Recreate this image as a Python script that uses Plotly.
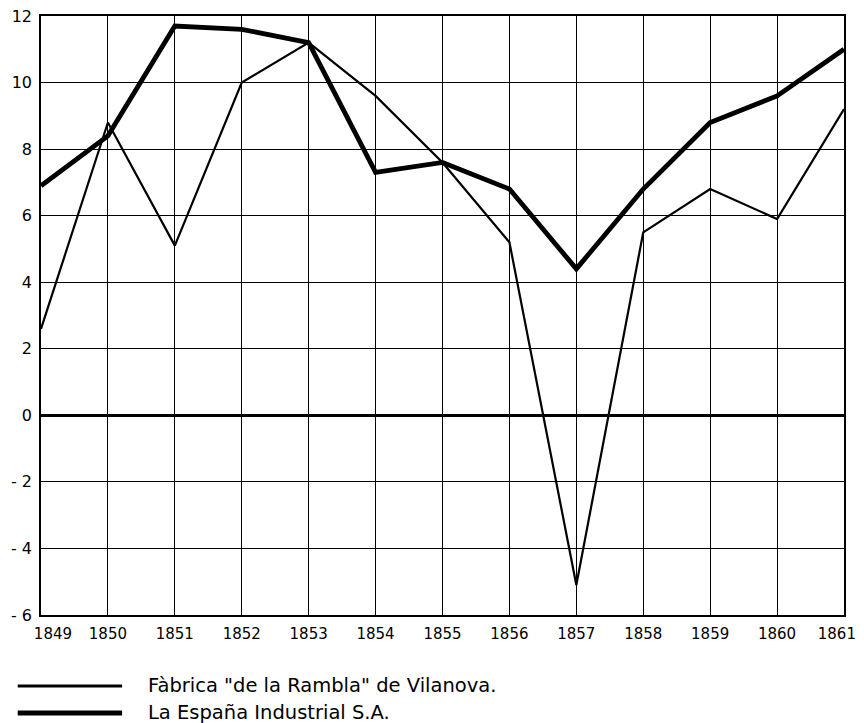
import plotly.graph_objects as go

years = [1849, 1850, 1851, 1852, 1853, 1854, 1855, 1856, 1857, 1858, 1859, 1860, 1861]
year_labels = ["\u00a0\u00a0\u00a0\u00a0\u00a01849", "1850", "1851", "1852", "1853", "1854", "1855",
               "1856", "1857", "1858", "1859", "1860", "1861\u00a0\u00a0\u00a0"]
rambla = [2.6, 8.8, 5.1, 10.0, 11.2, 9.6, 7.6, 5.2, -5.1, 5.5, 6.8, 5.9, 9.2]
espana = [6.9, 8.4, 11.7, 11.6, 11.2, 7.3, 7.6, 6.8, 4.4, 6.8, 8.8, 9.6, 11.0]
name_rambla = 'Fàbrica "de la Rambla" de Vilanova.'
name_espana = "La España Industrial S.A."
y_ticks = [-6, -4, -2, 0, 2, 4, 6, 8, 10, 12]
y_labels = ["- 6", "- 4", "- 2", "0", "2", "4", "6", "8", "10", "12"]

font = "DejaVu Sans"

fig = go.Figure()
fig.add_trace(go.Scatter(x=years, y=rambla, mode="lines", name=name_rambla,
                         line=dict(color="black", width=2.2), showlegend=False))
fig.add_trace(go.Scatter(x=years, y=espana, mode="lines", name=name_espana,
                         line=dict(color="black", width=4.8), showlegend=False))

# custom legend below the plot
legend_items = [(name_rambla, 2.8, -0.1185), (name_espana, 5.2, -0.1636)]
for name, w, yy in legend_items:
    fig.add_shape(type="line", xref="paper", yref="paper", x0=-0.029, x1=0.101,
                  y0=yy, y1=yy, line=dict(color="black", width=w))
    fig.add_annotation(xref="paper", yref="paper", x=0.131, y=yy, text=name,
                       showarrow=False, xanchor="left", yanchor="middle",
                       font=dict(family=font, size=19.5, color="black"))

# page body has an 8px margin, so the figure is sized/offset to compensate
fig.update_layout(
    width=856, height=715,
    margin=dict(l=33, r=20, t=8, b=108),
    paper_bgcolor="white", plot_bgcolor="white",
    font=dict(family=font, size=16, color="black"),
)
fig.update_xaxes(range=[1849, 1861], tickvals=years, ticktext=year_labels,
                 showgrid=True, gridcolor="black", gridwidth=1.4,
                 showline=True, linecolor="black", linewidth=1.6, mirror=True,
                 zeroline=False, ticks="", ticklabelstandoff=4, automargin=False,
                 ticklabeloverflow="allow", tickfont=dict(size=15))
fig.update_yaxes(range=[-6, 12], tickvals=y_ticks, ticktext=y_labels,
                 showgrid=True, gridcolor="black", gridwidth=1.4,
                 showline=True, linecolor="black", linewidth=1.6, mirror=True,
                 zeroline=True, zerolinecolor="black", zerolinewidth=2.6,
                 ticks="", ticklabelstandoff=4, automargin=False,
                 ticklabeloverflow="allow", tickfont=dict(size=16))

fig.write_html("out.html")
